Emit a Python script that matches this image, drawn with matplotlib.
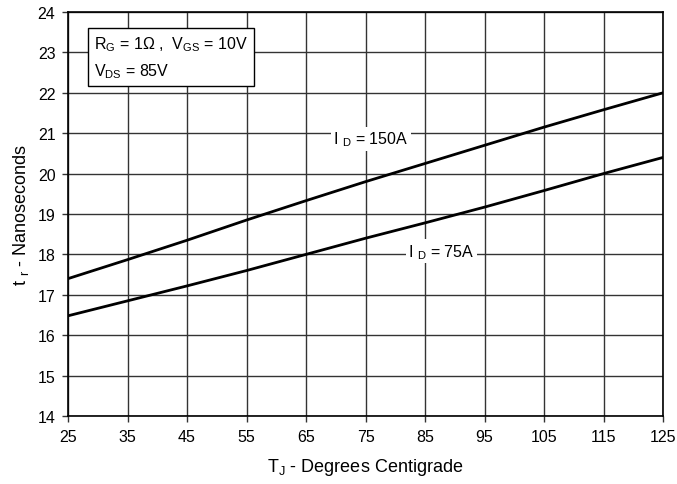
import matplotlib
matplotlib.use("Agg")
import matplotlib.pyplot as plt

plt.rcParams["font.family"] = ["Liberation Sans", "DejaVu Sans"]
plt.rcParams["mathtext.default"] = "regular"

# junction temperature, degrees C
tj = [25, 35, 45, 55, 65, 75, 85, 95, 105, 115, 125]
# rise time, ns
tr_150a = [17.4, 17.87, 18.35, 18.85, 19.33, 19.8, 20.25, 20.7, 21.15, 21.58, 22.0]
tr_75a = [16.48, 16.85, 17.22, 17.6, 18.0, 18.4, 18.78, 19.17, 19.58, 20.0, 20.4]

x_ticks = [25, 35, 45, 55, 65, 75, 85, 95, 105, 115, 125]
y_ticks = [14, 15, 16, 17, 18, 19, 20, 21, 22, 23, 24]

fig = plt.figure(figsize=(6.77, 4.85), dpi=100)
ax = fig.add_axes([68 / 677, 1 - 417 / 485, 595 / 677, 404 / 485])

ax.plot(tj, tr_150a, color="black", lw=2, zorder=3)
ax.plot(tj, tr_75a, color="black", lw=2, zorder=3)

ax.set_xlim(25, 125)
ax.set_ylim(14, 24)
ax.set_xticks(x_ticks)
ax.set_yticks(y_ticks)
ax.grid(True, color="#333333", lw=1)
ax.tick_params(direction="out", length=4, width=1, color="#333333",
               labelsize=11.5, pad=5)
for sp in ax.spines.values():
    sp.set_color("black")
    sp.set_linewidth(1.2)

ax.set_xlabel("$T_J$ - Degrees Centigrade", fontsize=13, labelpad=9)
ax.set_ylabel("t $_r$ - Nanoseconds", fontsize=13, labelpad=5)

box = dict(boxstyle="square,pad=0.15", fc="white", ec="none")
ax.text(75.9, 20.86, "I $_D$ = 150A", fontsize=11.5, ha="center", va="center",
        bbox=box, zorder=4)
ax.text(87.7, 18.08, "I $_D$ = 75A", fontsize=11.5, ha="center", va="center",
        bbox=box, zorder=4)

ax.text(29.3, 22.88, "$R_G$ = 1Ω ,  $V_{GS}$ = 10V\n$V_{DS}$ = 85V", fontsize=11.5,
        ha="left", va="center", linespacing=1.6,
        bbox=dict(boxstyle="square,pad=0.38", fc="white", ec="black", lw=1),
        zorder=4)

fig.savefig("out.png", dpi=100)
